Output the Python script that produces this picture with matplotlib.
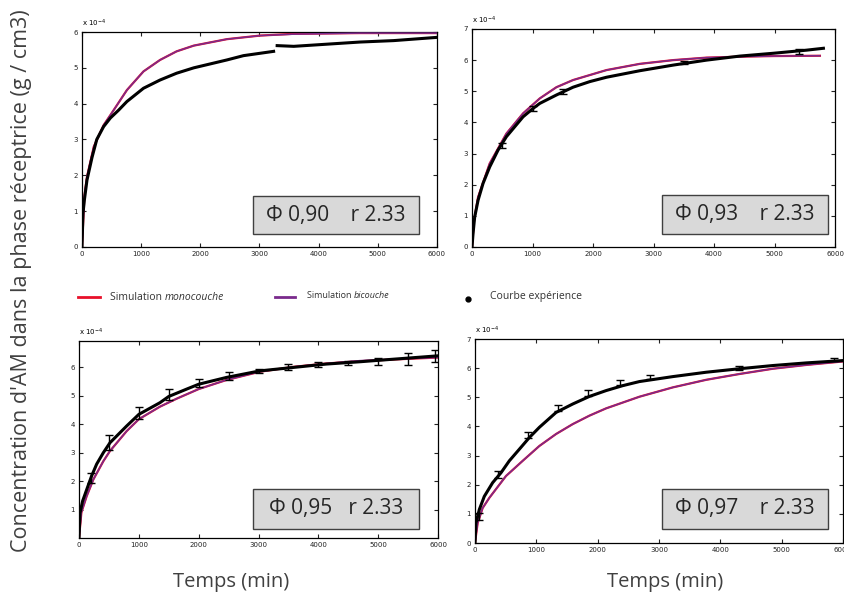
import numpy as np
import matplotlib
matplotlib.use("Agg")
import matplotlib.pyplot as plt
from matplotlib.patches import Rectangle
from matplotlib.lines import Line2D

#===========
# DATA (concentration in 1e-4 g/cm3, time in min)
#===========
# panel 1 : phi 0.90
t_exp1 = [0, 17, 40, 85, 170, 250, 366, 480, 620, 760, 1040, 1320, 1600, 1890, 2170, 2450, 2730, 3240,
          3270, 3300, 3580, 4140, 4700, 5270, 6000]
c_exp1 = [0, 0.93, 1.3, 1.87, 2.5, 3.0, 3.36, 3.6, 3.82, 4.06, 4.43, 4.66, 4.85, 5.0, 5.11, 5.22, 5.34, 5.46,
          np.nan, 5.62, 5.6, 5.66, 5.72, 5.76, 5.85]
t_sim1 = [0, 40, 85, 200, 366, 480, 760, 1040, 1320, 1600, 1890, 2450, 3010, 3580, 4700, 6000]
c_mono1 = [0, 1.4, 1.96, 2.8, 3.4, 3.68, 4.38, 4.9, 5.22, 5.46, 5.62, 5.8, 5.9, 5.95, 5.97, 5.97]
c_bi1 = [0, 1.4, 1.96, 2.8, 3.4, 3.68, 4.38, 4.9, 5.22, 5.46, 5.62, 5.8, 5.9, 5.94, 5.97, 5.97]

# panel 2 : phi 0.93
t_exp2 = [0, 17, 44, 100, 182, 292, 430, 568, 844, 1010, 1120, 1395, 1670, 1947, 2223, 2775, 3326, 3878,
          4430, 4981, 5532, 5808]
c_exp2 = [0, 0.43, 0.96, 1.5, 2.04, 2.57, 3.11, 3.54, 4.18, 4.45, 4.61, 4.88, 5.13, 5.31, 5.45, 5.66, 5.84, 6.0,
          6.13, 6.22, 6.32, 6.38]
t_err2 = [500, 1000, 1500, 3500, 5400]
c_err2 = [3.25, 4.45, 5.0, 5.92, 6.28]
e_err2 = [0.08, 0.08, 0.08, 0.06, 0.08]
t_sim2 = [0, 30, 100, 292, 568, 844, 1120, 1395, 1670, 2223, 2775, 3326, 3878, 4430, 4981, 5750]
c_mono2 = [0, 0.8, 1.6, 2.68, 3.64, 4.29, 4.77, 5.13, 5.36, 5.68, 5.88, 6.0, 6.08, 6.11, 6.13, 6.14]
c_bi2 = [0, 0.8, 1.6, 2.68, 3.64, 4.29, 4.77, 5.13, 5.36, 5.68, 5.88, 6.0, 6.08, 6.11, 6.13, 6.14]

# panel 3 : phi 0.95
t_exp3 = [0, 17, 60, 128, 210, 295, 406, 517, 796, 1000, 1352, 1500, 1800, 2000, 2465, 3022, 3578, 4135,
          4690, 5248, 6000]
c_exp3 = [0, 0.88, 1.3, 1.7, 2.18, 2.6, 3.0, 3.35, 3.94, 4.35, 4.76, 4.98, 5.24, 5.41, 5.65, 5.88, 6.0, 6.12,
          6.2, 6.29, 6.41]
t_err3 = [200, 500, 1000, 1500, 2000, 2500, 3000, 3500, 4000, 4500, 5000, 5500, 5950]
c_err3 = [2.1, 3.35, 4.4, 5.05, 5.45, 5.7, 5.88, 6.02, 6.1, 6.15, 6.22, 6.3, 6.4]
e_err3 = [0.18, 0.26, 0.22, 0.2, 0.15, 0.15, 0.08, 0.1, 0.1, 0.08, 0.12, 0.2, 0.2]
t_sim3 = [0, 40, 128, 240, 406, 517, 796, 1000, 1352, 1630, 2000, 2465, 3022, 3578, 4135, 4690, 5248, 6000]
c_mono3 = [0, 0.9, 1.47, 2.06, 2.7, 3.06, 3.76, 4.18, 4.62, 4.9, 5.24, 5.56, 5.85, 6.02, 6.14, 6.22, 6.28, 6.35]
c_bi3 = [0, 0.9, 1.47, 2.06, 2.7, 3.06, 3.76, 4.18, 4.62, 4.9, 5.24, 5.56, 5.85, 6.02, 6.14, 6.24, 6.29, 6.35]

# panel 4 : phi 0.97
t_exp4 = [0, 16, 71, 152, 288, 424, 560, 724, 887, 1050, 1322, 1594, 1866, 2138, 2410, 2682, 3226, 3770,
          4314, 4858, 5402, 6000]
c_exp4 = [0, 0.69, 1.15, 1.6, 2.07, 2.41, 2.82, 3.22, 3.62, 3.97, 4.48, 4.77, 5.03, 5.23, 5.4, 5.54, 5.71, 5.86,
          5.98, 6.09, 6.18, 6.26]
t_err4 = [71, 370, 860, 1350, 1840, 2360, 2850, 4310, 5850]
c_err4 = [0.9, 2.35, 3.7, 4.62, 5.15, 5.5, 5.7, 6.0, 6.3]
e_err4 = [0.12, 0.12, 0.1, 0.1, 0.1, 0.08, 0.08, 0.06, 0.06]
t_sim4 = [0, 44, 125, 234, 506, 778, 1050, 1322, 1594, 1866, 2138, 2682, 3226, 3770, 4314, 4858, 5402, 6000]
c_mono4 = [0, 0.69, 1.2, 1.55, 2.3, 2.82, 3.33, 3.74, 4.08, 4.37, 4.62, 5.02, 5.34, 5.6, 5.8, 5.98, 6.11, 6.23]
c_bi4 = [0, 0.69, 1.2, 1.55, 2.3, 2.82, 3.33, 3.74, 4.08, 4.37, 4.62, 5.02, 5.34, 5.6, 5.8, 5.98, 6.11, 6.23]

labels = ["Φ 0,90    r 2.33", "Φ 0,93    r 2.33", "Φ 0,95   r 2.33", "Φ 0,97    r 2.33"]

#===========
# FIGURE
#===========
fig = plt.figure(figsize=(8.45, 5.96), dpi=100)
fig.patch.set_facecolor("white")

positions = [[0.097, 0.5856, 0.420, 0.3607],
             [0.5586, 0.5856, 0.4296, 0.3658],
             [0.0935, 0.0973, 0.4249, 0.3305],
             [0.5621, 0.0889, 0.4355, 0.3423]]
# box for the phi / r label, in axes fractions (x0, y0, w, h)
boxes = [(0.482, 0.06, 0.467, 0.177),
         (0.523, 0.06, 0.458, 0.179),
         (0.485, 0.046, 0.462, 0.203),
         (0.508, 0.069, 0.451, 0.196)]
ylims = [6, 7, 6.93, 7]
yticks = [range(0, 7), range(0, 8), range(1, 7), range(0, 8)]

panels = [
    (t_exp1, c_exp1, None, None, None, t_sim1, c_mono1, c_bi1),
    (t_exp2, c_exp2, t_err2, c_err2, e_err2, t_sim2, c_mono2, c_bi2),
    (t_exp3, c_exp3, t_err3, c_err3, e_err3, t_sim3, c_mono3, c_bi3),
    (t_exp4, c_exp4, t_err4, c_err4, e_err4, t_sim4, c_mono4, c_bi4),
]

for i, (te, ce, tr, cr, er, ts, cm, cb) in enumerate(panels):
    ax = fig.add_axes(positions[i])
    ax.plot(ts, cm, color="#e8102a", lw=1.6, zorder=2)
    ax.plot(ts, cb, color="#7a2a8c", lw=1.1, zorder=3)
    ax.plot(te, ce, color="black", lw=2.2, zorder=4)
    if tr is not None:
        ax.errorbar(tr, cr, yerr=er, fmt="none", ecolor="black", elinewidth=1, capsize=3, zorder=5)
    ax.set_xlim(0, 6000)
    ax.set_ylim(0, ylims[i])
    ax.set_xticks(range(0, 7000, 1000))
    ax.set_yticks(list(yticks[i]))
    ax.tick_params(direction="in", top=True, right=True, length=3, width=0.8,
                   labelsize=5, colors="#222222", pad=3)
    for s in ax.spines.values():
        s.set_linewidth(0.9)
    ax.text(0.0, 1.015, r"x 10$^{-4}$", transform=ax.transAxes, fontsize=5, va="bottom")
    # annotation box
    x0, y0, w, h = boxes[i]
    ax.add_patch(Rectangle((x0, y0), w, h, transform=ax.transAxes,
                           facecolor="#d9d9d9", edgecolor="#404040", lw=1, zorder=6))
    ax.text(x0 + w / 2, y0 + h / 2, labels[i], transform=ax.transAxes, ha="center", va="center",
            fontsize=15, family="Open Sans", color="#262626", zorder=7)

#===========
# LEGEND ROW
#===========
ly = 1 - 297 / 596
fig.add_artist(Line2D([78 / 845, 100 / 845], [ly] * 2, color="#e8102a", lw=2))
t1 = fig.text(110 / 845, ly, "Simulation ", fontsize=7.5, family="Open Sans", va="center", color="#333333")
fig.add_artist(plt.Annotation("monocouche", xy=(1, 0.5), xycoords=t1, va="center", fontsize=7.5,
                              family="Open Sans", style="italic", color="#333333"))
fig.add_artist(Line2D([275 / 845, 295 / 845], [ly] * 2, color="#7a2a8c", lw=2))
t2 = fig.text(307 / 845, ly + 0.002, "Simulation ", fontsize=6.5, family="Open Sans", va="center",
              color="#333333")
fig.add_artist(plt.Annotation("bicouche", xy=(1, 0.5), xycoords=t2, va="center", fontsize=6.5,
                              family="Open Sans", style="italic", color="#333333"))
fig.add_artist(Line2D([468 / 845], [1 - 299 / 596], marker="o", markersize=3.5, color="black", lw=0))
fig.text(490 / 845, ly, "Courbe expérience", fontsize=7.5, family="Open Sans", va="center",
         color="#333333")

#===========
# AXIS TITLES
#===========
fig.text(22 / 845, 1 - 281 / 596, "Concentration d'AM dans la phase réceptrice (g / cm3)", rotation=90,
         ha="center", va="center", fontsize=15.5, family="Open Sans", color="#404040")
fig.text(231 / 845, 1 - 582 / 596, "Temps (min)", ha="center", va="center", fontsize=14.5,
         family="Open Sans", color="#404040")
fig.text(665 / 845, 1 - 582 / 596, "Temps (min)", ha="center", va="center", fontsize=14.5,
         family="Open Sans", color="#404040")

fig.savefig("out.png", dpi=100)
